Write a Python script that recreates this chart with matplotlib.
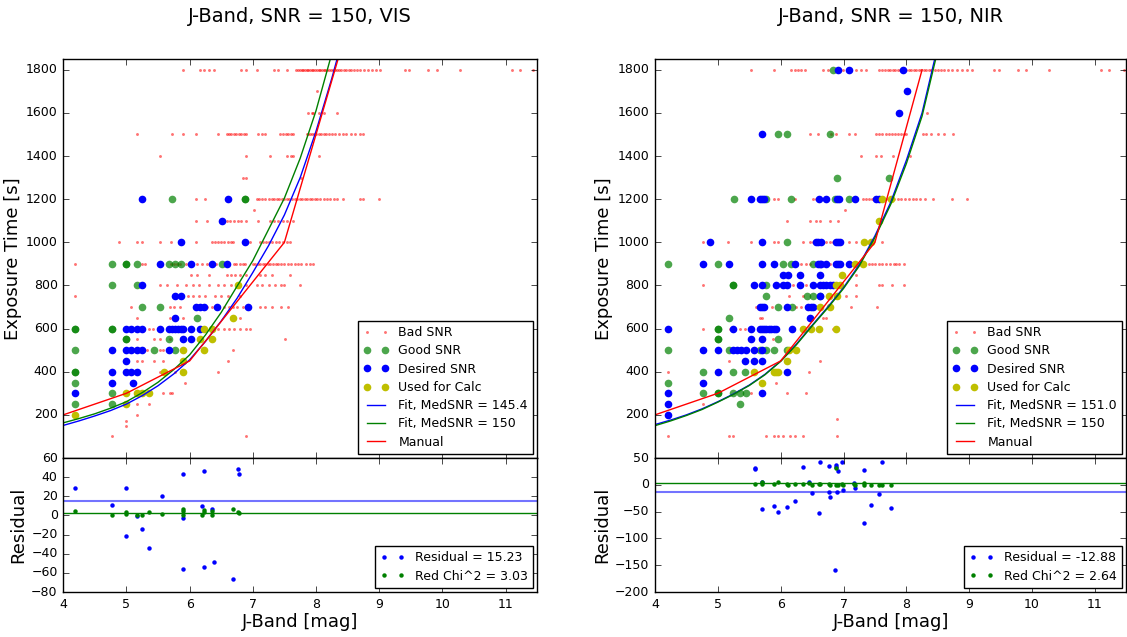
import matplotlib
matplotlib.use('Agg')
import matplotlib.pyplot as plt

plt.style.use('classic')
plt.rcParams['font.family'] = ['DejaVu Sans']

# ---------------- DATA: VIS ----------------
vis_title = "J-Band, SNR = 150, VIS"
vis_bad = {
    1800: [5.9, 6.17, 6.22, 6.3, 6.38, 6.82, 6.9, 7.06, 7.33, 7.4, 7.54, 7.69, 7.72, 7.75, 7.78, 7.8, 7.83,
           7.86, 7.88, 7.91, 7.94, 7.96, 7.99, 8.02, 8.04, 8.07, 8.1, 8.12, 8.15, 8.18, 8.21, 8.24, 8.27, 8.3,
           8.33, 8.36, 8.4, 8.44, 8.48, 8.52, 8.56, 8.6, 8.65, 8.7, 8.76, 8.82, 8.88, 8.95, 9.02, 9.41, 9.47,
           9.78, 9.91, 10.28, 11.1, 11.23, 11.44],
    1700: [8.01],
    1600: [7.88, 7.93, 7.96, 8.05, 8.12, 8.33],
    1500: [5.17, 5.72, 5.89, 6.1, 6.45, 6.59, 6.63, 6.66, 6.7, 6.74, 6.78, 6.82, 6.86, 6.9, 7.09, 7.14, 7.19,
           7.43, 7.48, 7.52, 7.56, 7.6, 7.64, 7.85, 7.88, 7.91, 7.94, 7.97, 8.0, 8.04, 8.08, 8.12, 8.16, 8.2,
           8.25, 8.3, 8.36, 8.42, 8.48, 8.55, 8.62, 8.7, 8.75],
    1400: [5.53, 6.9, 7.28, 7.54, 7.6, 7.64, 8.04],
    1300: [6.85, 6.9, 7.77],
    1200: [6.1, 6.24, 6.61, 7.06, 7.1, 7.15, 7.2, 7.25, 7.3, 7.34, 7.38, 7.42, 7.46, 7.5, 7.54, 7.58, 7.62,
           7.66, 7.7, 7.74, 7.78, 7.82, 7.86, 7.9, 7.94, 7.98, 8.02, 8.07, 8.12, 8.17, 8.22, 8.28, 8.34, 8.43,
           8.7, 8.75, 9.0],
    1150: [7.02],
    1100: [6.1, 6.27, 6.59, 6.64, 6.7, 6.76, 6.82, 6.9, 7.09, 7.27, 7.33, 7.4, 7.47, 7.54, 7.64],
    1000: [4.88, 5.17, 5.24, 5.53, 5.71, 6.1, 6.35, 6.4, 6.45, 6.5, 6.55, 6.6, 6.65, 6.69, 6.88, 6.96, 7.11,
           7.16, 7.21, 7.26, 7.31, 7.36, 7.42, 7.48, 7.54, 7.59],
    900: [4.19, 5.24, 5.3, 5.7, 5.75, 5.8, 5.85, 5.95, 6.06, 6.12, 6.2, 6.28, 6.38, 6.42, 6.7, 6.74, 6.79,
          6.84, 6.88, 7.0, 7.04, 7.08, 7.12, 7.16, 7.2, 7.24, 7.28, 7.32, 7.36, 7.4, 7.45, 7.5, 7.55, 7.6,
          7.66, 7.72, 7.77, 7.84, 7.9, 7.96],
    850: [6.03, 6.11, 6.31, 6.59, 6.65, 6.72, 6.8, 6.9, 7.11, 7.2, 7.3, 7.59],
    800: [5.53, 5.65, 5.8, 5.95, 6.05, 6.15, 6.3, 6.45, 6.55, 6.65, 6.75, 6.9, 7.07, 7.15, 7.25, 7.35, 7.45,
          7.5, 7.75],
    750: [4.19, 5.98, 6.05, 6.15, 6.25, 6.4, 6.5, 6.6, 6.8],
    700: [5.08, 5.69, 5.75, 5.85, 6.28, 6.35, 6.55, 6.62, 6.68, 6.75, 6.85, 7.11, 7.2, 7.3, 7.45, 7.55],
    650: [5.17, 5.69, 5.89, 6.8],
    600: [5.35, 5.42, 6.45, 6.55, 6.62, 6.7, 6.8, 6.9, 6.95],
    550: [5.17, 5.43, 5.53, 5.69, 6.06, 6.14, 7.51],
    500: [5.32, 5.53, 5.58, 6.69],
    450: [5.17, 5.24, 5.43, 5.58, 6.61],
    400: [5.53, 5.77, 6.45],
    350: [5.93],
    300: [5.58, 5.69, 5.72],
    250: [5.17, 5.35],
    200: [5.17],
    170: [4.99],
    150: [4.99],
    100: [4.77, 6.9],
}
vis_good = {
    1200: [5.72, 6.87, 6.87],
    900: [4.77, 4.99, 4.99, 5.17, 5.67, 5.77, 5.86, 6.52],
    800: [4.77, 5.17],
    700: [5.24, 5.53],
    650: [6.11],
    600: [4.19, 4.19, 4.77, 4.77],
    550: [4.99, 4.99, 5.67],
    500: [4.19, 5.43, 5.77],
    400: [4.19, 4.19],
    350: [4.19],
    300: [4.77],
    250: [4.19, 4.77],
}
vis_desired = {
    1200: [5.24, 6.6],
    1100: [6.52],
    1000: [5.86, 6.87],
    900: [5.53, 6.02, 6.36, 6.59],
    800: [5.24],
    750: [5.77, 5.86],
    700: [6.1, 6.16, 6.23, 6.43, 6.92],
    650: [5.77],
    600: [4.99, 5.08, 5.17, 5.24, 5.53, 5.67, 5.72, 5.77, 5.82, 5.86, 5.9, 6.02, 6.16],
    550: [5.89, 6.02],
    500: [4.77, 4.99, 5.08, 5.17, 5.24, 5.67],
    450: [4.99],
    400: [4.77, 4.99, 5.08, 5.17],
    350: [4.77, 5.1],
    300: [4.19],
}
vis_used = {
    800: [6.77],
    650: [6.68],
    600: [6.23, 6.35],
    550: [6.16, 6.36],
    500: [5.9, 6.23],
    450: [5.9],
    400: [5.6, 5.9],
    300: [4.99, 5.16, 5.24, 5.35],
    250: [4.99],
    200: [4.19],
}
vis_fit_mag = [4.0, 4.25, 4.5, 4.75, 5.0, 5.25, 5.5, 5.75, 6.0, 6.25, 6.5, 6.75, 7.0, 7.25, 7.5, 7.75,
               8.0, 8.25, 8.5]
vis_fit_time = [151, 172, 195, 220, 250, 289, 335, 390, 455, 540, 635, 740, 860, 985, 1127, 1300,
                1515, 1760, 2030]
vis_fit150_time = [163, 183, 205, 231, 261, 303, 351, 410, 478, 570, 675, 796, 915, 1060, 1205, 1390,
                   1610, 1875, 2150]
vis_manual_mag = [4.0, 5.0, 6.0, 7.5, 8.5]
vis_manual_time = [200, 300, 450, 1000, 2000]
vis_fit_label = "Fit, MedSNR = 145.4"
vis_resid_mag = [4.19, 4.77, 4.99, 4.99, 5.17, 5.24, 5.35, 5.57, 5.89, 5.90, 5.90, 6.19, 6.23, 6.23, 6.36,
                 6.38, 6.68, 6.76, 6.78]
vis_resid = [28.5, 10.8, 28.9, -21.2, -1.0, -13.9, -33.7, 20.2, -2.8, 43.5, -55.7, 9.7, 45.9, -53.6, 6.6,
             -49.0, -66.8, 49.0, 43.8]
vis_chi_mag = [4.19, 4.77, 4.99, 4.99, 5.17, 5.24, 5.35, 5.57, 5.89, 5.90, 5.90, 6.19, 6.23, 6.23, 6.36,
               6.36, 6.68, 6.77, 6.78]
vis_chi = [4.9, 0.7, 3.1, 1.0, 0.3, 0.7, 3.5, 1.0, 0.3, 7.0, 4.2, 0.3, 5.6, 3.8, 4.5, 0.3, 6.6, 3.1, 2.4]
vis_resid_mean = 15.23
vis_redchi = 3.03
vis_res_ylim = (-80, 60)
vis_res_ticks = [-80, -60, -40, -20, 0, 20, 40, 60]

# ---------------- DATA: NIR ----------------
nir_title = "J-Band, SNR = 150, NIR"
nir_bad = {
    1800: [5.53, 5.9, 6.17, 6.22, 6.28, 6.33, 6.38, 6.67, 6.75, 6.99, 7.2, 7.28, 7.36, 7.57, 7.62, 7.66, 7.7,
           7.74, 7.78, 7.82, 7.86, 7.9, 7.93, 7.97, 8.0, 8.04, 8.08, 8.12, 8.16, 8.2, 8.24, 8.28, 8.32, 8.36,
           8.4, 8.45, 8.5, 8.55, 8.6, 8.66, 8.72, 8.8, 8.88, 8.96, 9.05, 9.4, 9.48, 9.77, 9.9, 10.27, 11.09,
           11.22, 11.46],
    1600: [8.33],
    1500: [6.46, 6.59, 6.8, 6.88, 7.09, 7.19, 7.52, 7.57, 7.62, 7.67, 7.72, 7.77, 7.82, 7.87, 7.92, 7.97, 8.0,
           8.26, 8.32, 8.4, 8.5, 8.6, 8.74],
    1400: [7.28, 7.52, 7.6, 7.78, 8.05],
    1200: [5.9, 5.96, 6.22, 6.51, 6.56, 6.62, 6.67, 6.72, 7.31, 7.36, 7.41, 7.46, 7.62, 7.68, 7.74, 7.8, 7.86,
           7.92, 7.98, 8.04, 8.1, 8.16, 8.22, 8.3, 8.42, 8.73, 8.97],
    1150: [7.02],
    1100: [6.1, 6.46, 6.56, 6.62, 6.78, 6.91],
    1000: [4.77, 5.16, 5.53, 5.9, 5.95, 6.35, 6.46, 6.51, 6.56, 6.62, 6.67, 6.72, 6.78, 6.83, 7.08, 7.2, 7.31,
           7.62],
    900: [6.25, 6.33, 6.4, 6.46, 6.67, 6.78, 7.41, 7.45, 7.5, 7.56, 7.62, 7.68, 7.74, 7.8, 7.84, 7.88, 7.97],
    850: [7.2],
    800: [4.77, 6.2, 6.41, 6.56, 7.2, 7.57, 7.62, 7.77, 7.97],
    750: [6.14, 6.35, 7.04, 7.2],
    700: [5.6, 5.86, 6.25, 6.33, 7.12, 7.54],
    650: [5.67, 5.71, 6.67, 6.72],
    600: [4.77, 5.19, 5.35, 5.43, 6.83],
    550: [5.88],
    450: [5.17, 6.62],
    400: [4.2, 6.45],
    350: [5.93],
    300: [5.53, 6.1, 6.41],
    250: [4.77],
    180: [6.9],
    100: [4.2, 5.17, 5.24, 5.77, 5.9, 5.96, 6.03, 6.15, 6.23, 6.35, 6.9],
}
nir_good = {
    1800: [6.83],
    1500: [5.95, 6.10, 6.78],
    1300: [6.90, 7.73],
    1200: [5.25, 5.77, 6.16, 6.87, 7.08],
    1000: [6.10],
    900: [4.2, 5.0, 6.03, 6.16, 6.51],
    800: [5.24, 5.24, 5.77],
    750: [5.77, 6.42, 6.51, 6.62],
    700: [5.95, 6.18],
    650: [5.17],
    600: [5.0, 5.0],
    550: [5.0, 5.0, 5.95],
    500: [4.2, 5.17, 5.67, 5.77, 5.9, 6.10],
    400: [4.77, 5.24, 5.43],
    350: [4.2],
    300: [4.77, 5.0, 5.0, 5.24, 5.35, 5.45],
    250: [5.35],
}
nir_desired = {
    1800: [6.92, 7.08, 7.95],
    1700: [8.01],
    1600: [7.88],
    1500: [5.71],
    1200: [5.53, 5.67, 5.71, 5.74, 6.61, 6.72, 6.9, 6.93, 7.18, 7.52, 7.57],
    1000: [4.88, 5.71, 6.56, 6.6, 6.64, 6.88, 6.91, 6.94],
    900: [4.77, 5.17, 5.71, 5.89, 6.23, 6.59, 6.62, 6.64, 6.72, 6.88, 6.91, 6.94, 7.08],
    850: [6.03, 6.12, 6.31, 6.62],
    800: [5.58, 5.71, 5.93, 6.03, 6.10, 6.31, 6.51, 6.62, 6.67, 6.72, 6.78, 6.83],
    750: [6.62],
    700: [5.67, 5.71, 5.74, 6.10, 6.43, 6.48, 6.51],
    650: [6.46],
    600: [4.2, 5.24, 5.53, 5.67, 5.71, 5.74, 5.77, 5.81, 5.85, 5.89, 5.93, 6.18],
    550: [5.53, 5.71],
    500: [4.77, 5.0, 5.24, 5.3, 5.37, 5.45, 5.58, 5.71],
    450: [5.43, 5.58, 5.71],
    400: [5.0, 6.10],
    350: [4.77],
    300: [4.2, 5.71],
    250: [4.2],
    200: [4.2],
}
nir_used = {
    1200: [7.62, 7.76],
    1100: [7.57],
    1000: [7.33, 7.44],
    900: [7.18, 7.31],
    850: [6.98],
    800: [6.88, 6.94],
    750: [6.77, 6.89],
    700: [6.62, 6.78],
    600: [6.35, 6.49, 6.61, 6.88],
    500: [6.14, 6.24],
    450: [6.10],
    400: [5.58, 5.89, 5.93, 5.96],
    350: [5.71],
}
nir_fit_mag = [4.0, 4.25, 4.5, 4.75, 5.0, 5.25, 5.5, 5.75, 6.0, 6.25, 6.5, 6.75, 7.0, 7.25, 7.5, 7.75,
               8.0, 8.25, 8.5]
nir_fit_time = [155, 176, 200, 228, 261, 297, 338, 388, 450, 528, 615, 700, 790, 896, 1030, 1185,
                1380, 1600, 1910]
nir_fit150_time = [150, 172, 197, 225, 259, 295, 336, 386, 448, 525, 612, 696, 786, 890, 1022, 1175,
                   1365, 1585, 1890]
nir_manual_mag = [4.0, 5.0, 6.0, 7.5, 8.25]
nir_manual_time = [200, 300, 450, 1000, 1800]
nir_fit_label = "Fit, MedSNR = 151.0"
nir_resid_mag = [5.59, 5.59, 5.71, 5.71, 5.90, 5.95, 6.10, 6.23, 6.35, 6.45, 6.50, 6.61, 6.62, 6.77, 6.77,
                 6.79, 6.88, 6.88, 6.89, 6.87, 6.91, 6.98, 6.99, 7.17, 7.19, 7.32, 7.32, 7.44, 7.57, 7.62,
                 7.76]
nir_resid = [31, 29, 4.4, -45.5, -39, -51, -41.7, -31, 32.4, 4.4, -16.2, -51.7, 41.7, 36, -13.7, -23, 37,
             33.6, -13.7, -159, 25, 43, -10, 2.5, -6.2, 26.8, -70.4, -37.4, -18, 41.7, -42.4]
nir_chi_mag = [5.59, 5.71, 5.71, 5.90, 5.95, 6.10, 6.12, 6.23, 6.35, 6.45, 6.50, 6.61, 6.62, 6.77, 6.79,
               6.88, 6.88, 6.91, 6.98, 6.99, 7.17, 7.19, 7.32, 7.32, 7.44, 7.57, 7.62, 7.76]
nir_chi = [1.2, 4.4, 1.2, 1.2, 4.4, 1.9, 0.3, 0.6, 0.6, 2.5, 0.3, 1.9, 1.9, 0.6, 0.3, 32, 0.3, 0.3, 1.2,
           0.3, 1.2, 0.3, 3.1, 0.3, 0.3, 0.3, 0.3, 0.3]
nir_resid_mean = -12.88
nir_redchi = 2.64
nir_res_ylim = (-200, 50)
nir_res_ticks = [-200, -150, -100, -50, 0, 50]

time_ticks = [200, 400, 600, 800, 1000, 1200, 1400, 1600, 1800]
mag_ticks = [4, 5, 6, 7, 8, 9, 10, 11]


def flatten(rows):
    mags, times = [], []
    for t, ms in rows.items():
        for m in ms:
            mags.append(m)
            times.append(t)
    return mags, times


W, H = 1127.0, 637.0
fig = plt.figure(figsize=(11.27, 6.37), dpi=100, facecolor='white')


def rect(x0, x1, y0, y1):
    return [x0 / W, 1 - y1 / H, (x1 - x0) / W, (y1 - y0) / H]


TICK_FS = 9
LEG_FS = 9
LAB_FS = 13
TITLE_FS = 14


def panel(x0, x1, title, bad, good, desired, used, fit_mag, fit_t, fit150_t, man_m, man_t,
          fit_label, rmag, rval, cmag, cval, rmean, rchi, rylim, rticks):
    ax = fig.add_axes(rect(x0, x1, 59, 458))
    axr = fig.add_axes(rect(x0, x1, 458, 592), sharex=ax)

    bm, bt = flatten(bad)
    gm, gt = flatten(good)
    dm, dt = flatten(desired)
    um, ut = flatten(used)
    ax.plot(bm, bt, 'o', color='r', ms=2.1, mec='none', alpha=0.55, label='Bad SNR')
    ax.plot(gm, gt, 'o', color='g', ms=5.5, mec='none', alpha=0.7, label='Good SNR')
    ax.plot(dm, dt, 'o', color='b', ms=5.5, mec='none', label='Desired SNR')
    ax.plot(um, ut, 'o', color='y', ms=5.5, mec='none', label='Used for Calc')
    ax.plot(fit_mag, fit_t, '-', color='b', lw=1, label=fit_label)
    ax.plot(fit_mag, fit150_t, '-', color='g', lw=1, label='Fit, MedSNR = 150')
    ax.plot(man_m, man_t, '-', color='r', lw=1, label='Manual')
    ax.set_xlim(4, 11.5)
    ax.set_ylim(0, 1850)
    ax.set_yticks(time_ticks)
    ax.set_ylabel('Exposure Time [s]', fontsize=LAB_FS, labelpad=3)
    ax.tick_params(labelsize=TICK_FS, labelbottom=False)
    leg = ax.legend(loc='lower right', fontsize=LEG_FS, numpoints=2, borderaxespad=0.35,
                    handlelength=2.0, labelspacing=0.42, fancybox=False, borderpad=0.4)
    leg.get_frame().set_linewidth(1.0)

    axr.plot(rmag, rval, 'o', color='b', ms=3.2, mec='none', label='Residual = %.2f' % rmean)
    axr.plot(cmag, cval, 'o', color='g', ms=3.2, mec='none', label='Red Chi^2 = %.2f' % rchi)
    axr.axhline(rmean, color='b', lw=1.5, alpha=0.55)
    axr.axhline(rchi, color='g', lw=1)
    axr.set_ylim(*rylim)
    axr.set_yticks(rticks)
    axr.set_xticks(mag_ticks)
    axr.set_xlim(4, 11.5)
    axr.set_ylabel('Residual', fontsize=LAB_FS, labelpad=3)
    axr.set_xlabel('J-Band [mag]', fontsize=LAB_FS, labelpad=2)
    axr.tick_params(labelsize=TICK_FS)
    leg2 = axr.legend(loc='lower right', fontsize=LEG_FS, numpoints=2, borderaxespad=0.35,
                      handlelength=2.0, labelspacing=0.42, fancybox=False, borderpad=0.4)
    leg2.get_frame().set_linewidth(1.0)

    fig.text((x0 + x1) / 2 / W, 1 - 17 / H, title, ha='center', va='center', fontsize=TITLE_FS)
    return ax, axr


panel(63.2, 537.2, vis_title, vis_bad, vis_good, vis_desired, vis_used, vis_fit_mag, vis_fit_time,
      vis_fit150_time, vis_manual_mag, vis_manual_time, vis_fit_label, vis_resid_mag, vis_resid,
      vis_chi_mag, vis_chi, vis_resid_mean, vis_redchi, vis_res_ylim, vis_res_ticks)
panel(655.0, 1126.3, nir_title, nir_bad, nir_good, nir_desired, nir_used, nir_fit_mag, nir_fit_time,
      nir_fit150_time, nir_manual_mag, nir_manual_time, nir_fit_label, nir_resid_mag, nir_resid,
      nir_chi_mag, nir_chi, nir_resid_mean, nir_redchi, nir_res_ylim, nir_res_ticks)

fig.savefig('out.png', dpi=100, facecolor='white')
